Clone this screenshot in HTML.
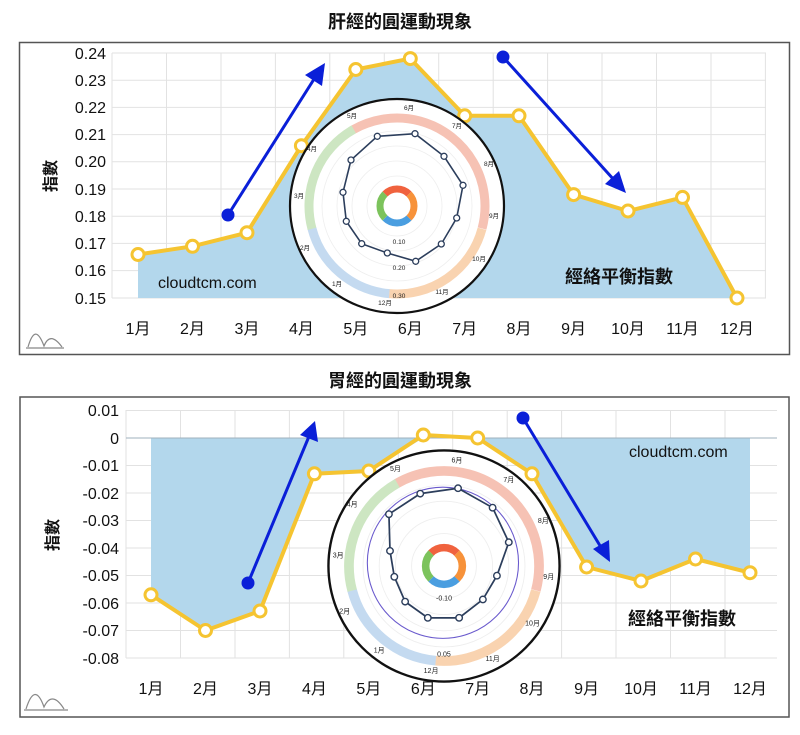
<!DOCTYPE html>
<html><head><meta charset="utf-8"><style>
html,body{margin:0;padding:0;background:#fff;}
svg{display:block;font-family:"Liberation Sans","Noto Sans CJK TC",sans-serif;}
</style></head><body>
<svg width="800" height="735" viewBox="0 0 800 735" xmlns="http://www.w3.org/2000/svg">
<defs>
<g id="wheel">
  <circle r="107" fill="#fff" stroke="#111" stroke-width="2.2"/>
  <circle r="88" fill="none" stroke="#f6c2b4" stroke-width="9" stroke-dasharray="207 1000" transform="rotate(-120)"/>
  <circle r="88" fill="none" stroke="#f9d3b0" stroke-width="9" stroke-dasharray="123 1000" transform="rotate(15)"/>
  <circle r="88" fill="none" stroke="#c4daf0" stroke-width="9" stroke-dasharray="108 1000" transform="rotate(95)"/>
  <circle r="88" fill="none" stroke="#cde6c2" stroke-width="9" stroke-dasharray="116 1000" transform="rotate(165)"/>
  <g stroke="#eee" stroke-width="0.8" fill="none">
    <circle r="30"/><circle r="45"/><circle r="60"/><circle r="75"/>
  </g>
  <circle r="17" fill="none" stroke="#f0623e" stroke-width="7" stroke-dasharray="26.7 200" transform="rotate(-135)"/>
  <circle r="17" fill="none" stroke="#f7923a" stroke-width="7" stroke-dasharray="26.7 200" transform="rotate(-45)"/>
  <circle r="17" fill="none" stroke="#4a9ee0" stroke-width="7" stroke-dasharray="26.7 200" transform="rotate(45)"/>
  <circle r="17" fill="none" stroke="#7cc35c" stroke-width="7" stroke-dasharray="26.7 200" transform="rotate(135)"/>
  <g font-size="6.5" fill="#222" text-anchor="middle">
    <text x="12" y="-96">6月</text><text x="60" y="-78">7月</text><text x="92" y="-40">8月</text>
    <text x="97" y="12">9月</text><text x="82" y="55">10月</text><text x="45" y="88">11月</text>
    <text x="-12" y="99">12月</text><text x="-60" y="80">1月</text><text x="-92" y="44">2月</text>
    <text x="-98" y="-8">3月</text><text x="-85" y="-55">4月</text><text x="-45" y="-88">5月</text>
  </g>
</g>
</defs>

<!-- TOP CHART -->
<text x="400" y="28" text-anchor="middle" font-size="18" font-weight="bold" fill="#111">肝經的圓運動現象</text>
<rect x="19.5" y="42.5" width="770" height="312" fill="#fff" stroke="#555" stroke-width="1.5"/>
<g stroke="#e2e2e2" stroke-width="1">
  <line x1="112" y1="53" x2="766" y2="53"/><line x1="112" y1="80.2" x2="766" y2="80.2"/><line x1="112" y1="107.4" x2="766" y2="107.4"/>
  <line x1="112" y1="134.6" x2="766" y2="134.6"/><line x1="112" y1="161.8" x2="766" y2="161.8"/><line x1="112" y1="189" x2="766" y2="189"/>
  <line x1="112" y1="216.2" x2="766" y2="216.2"/><line x1="112" y1="243.4" x2="766" y2="243.4"/><line x1="112" y1="270.6" x2="766" y2="270.6"/><line x1="112" y1="298" x2="766" y2="298"/>
  <line x1="112" y1="53" x2="112" y2="298"/><line x1="166.5" y1="53" x2="166.5" y2="298"/><line x1="221" y1="53" x2="221" y2="298"/><line x1="275.4" y1="53" x2="275.4" y2="298"/>
  <line x1="329.8" y1="53" x2="329.8" y2="298"/><line x1="384.3" y1="53" x2="384.3" y2="298"/><line x1="438.7" y1="53" x2="438.7" y2="298"/><line x1="493.2" y1="53" x2="493.2" y2="298"/>
  <line x1="547.6" y1="53" x2="547.6" y2="298"/><line x1="602" y1="53" x2="602" y2="298"/><line x1="656.5" y1="53" x2="656.5" y2="298"/><line x1="711" y1="53" x2="711" y2="298"/><line x1="765.4" y1="53" x2="765.4" y2="298"/>
</g>
<polygon fill="#b3d7ec" points="138,298 138,254.5 192.5,246.3 247,232.7 301.4,145.7 355.8,69.5 410.3,58.6 464.7,115.8 519,115.8 573.6,194.6 628,211 682.5,197.4 737,298"/>
<g font-size="16" fill="#111" text-anchor="end">
  <text x="106" y="59">0.24</text><text x="106" y="86">0.23</text><text x="106" y="113">0.22</text><text x="106" y="140">0.21</text>
  <text x="106" y="167">0.20</text><text x="106" y="195">0.19</text><text x="106" y="222">0.18</text><text x="106" y="249">0.17</text>
  <text x="106" y="276">0.16</text><text x="106" y="304">0.15</text>
</g>
<text transform="translate(56,176) rotate(-90)" text-anchor="middle" font-size="16" font-weight="bold" fill="#111">指數</text>
<g font-size="16" fill="#111" text-anchor="middle">
  <text x="138" y="334">1月</text><text x="192.5" y="334">2月</text><text x="247" y="334">3月</text><text x="301.4" y="334">4月</text>
  <text x="355.8" y="334">5月</text><text x="410.3" y="334">6月</text><text x="464.7" y="334">7月</text><text x="519" y="334">8月</text>
  <text x="573.6" y="334">9月</text><text x="628" y="334">10月</text><text x="682.5" y="334">11月</text><text x="737" y="334">12月</text>
</g>
<text x="158" y="288" font-size="16" fill="#111">cloudtcm.com</text>
<text x="565" y="283" font-size="18" font-weight="bold" fill="#111">經絡平衡指數</text>
<polyline fill="none" stroke="#f5c431" stroke-width="4" stroke-linejoin="round" points="138,254.5 192.5,246.3 247,232.7 301.4,145.7 355.8,69.5 410.3,58.6 464.7,115.8 519,115.8 573.6,194.6 628,211 682.5,197.4 737,298"/>
<g fill="#fff" stroke="#f5c431" stroke-width="3">
  <circle cx="138" cy="254.5" r="6"/><circle cx="192.5" cy="246.3" r="6"/><circle cx="247" cy="232.7" r="6"/><circle cx="301.4" cy="145.7" r="6"/>
  <circle cx="355.8" cy="69.5" r="6"/><circle cx="410.3" cy="58.6" r="6"/><circle cx="464.7" cy="115.8" r="6"/><circle cx="519" cy="115.8" r="6"/>
  <circle cx="573.6" cy="194.6" r="6"/><circle cx="628" cy="211" r="6"/><circle cx="682.5" cy="197.4" r="6"/><circle cx="737" cy="298" r="6"/>
</g>
<g transform="translate(397,206)">
  <use href="#wheel"/>
  <polygon fill="none" stroke="#2c3e5c" stroke-width="1.6" points="-19.7,-69.7 18,-72.3 47,-49.7 66,-20.7 59.7,12 44.3,38 18.7,55.3 -9.7,47 -35.3,37.7 -50.7,15.3 -54,-13.7 -46,-46"/>
  <g fill="#fff" stroke="#2c3e5c" stroke-width="1.3">
    <circle cx="-19.7" cy="-69.7" r="3"/><circle cx="18" cy="-72.3" r="3"/><circle cx="47" cy="-49.7" r="3"/><circle cx="66" cy="-20.7" r="3"/>
    <circle cx="59.7" cy="12" r="3"/><circle cx="44.3" cy="38" r="3"/><circle cx="18.7" cy="55.3" r="3"/><circle cx="-9.7" cy="47" r="3"/>
    <circle cx="-35.3" cy="37.7" r="3"/><circle cx="-50.7" cy="15.3" r="3"/><circle cx="-54" cy="-13.7" r="3"/><circle cx="-46" cy="-46" r="3"/>
  </g>
  <g font-size="6.5" fill="#222" text-anchor="middle"><text x="2" y="38">0.10</text><text x="2" y="64">0.20</text><text x="2" y="92">0.30</text></g>
</g>
<g fill="#0a1fd8" stroke="#0a1fd8">
  <line x1="228" y1="215" x2="316" y2="76" stroke-width="3"/>
  <polygon points="325,63 322,86 305,75" stroke="none"/>
  <circle cx="228" cy="215" r="6.5" stroke="none"/>
  <line x1="503" y1="57" x2="615" y2="181" stroke-width="3"/>
  <polygon points="626,193 605,184 619,171" stroke="none"/>
  <circle cx="503" cy="57" r="6.5" stroke="none"/>
</g>
<g fill="none" stroke="#888" stroke-width="1.2"><path d="M26,348 L64,348"/><path d="M28,347 C33,330 38,330 44,346 C48,336 54,336 62,347"/></g>

<!-- BOTTOM CHART -->
<text x="400" y="387" text-anchor="middle" font-size="18" font-weight="bold" fill="#111">胃經的圓運動現象</text>
<rect x="20" y="397" width="769" height="320" fill="#fff" stroke="#555" stroke-width="1.5"/>
<g stroke="#e2e2e2" stroke-width="1">
  <line x1="126" y1="410.5" x2="777" y2="410.5"/><line x1="126" y1="465.5" x2="777" y2="465.5"/><line x1="126" y1="493" x2="777" y2="493"/>
  <line x1="126" y1="520.5" x2="777" y2="520.5"/><line x1="126" y1="548" x2="777" y2="548"/><line x1="126" y1="575.5" x2="777" y2="575.5"/>
  <line x1="126" y1="603" x2="777" y2="603"/><line x1="126" y1="630.5" x2="777" y2="630.5"/><line x1="126" y1="658" x2="777" y2="658"/>
  <line x1="126" y1="410" x2="126" y2="658"/><line x1="180.5" y1="410" x2="180.5" y2="658"/><line x1="235" y1="410" x2="235" y2="658"/><line x1="289.4" y1="410" x2="289.4" y2="658"/>
  <line x1="343.8" y1="410" x2="343.8" y2="658"/><line x1="398.3" y1="410" x2="398.3" y2="658"/><line x1="452.7" y1="410" x2="452.7" y2="658"/><line x1="507.2" y1="410" x2="507.2" y2="658"/>
  <line x1="561.6" y1="410" x2="561.6" y2="658"/><line x1="616" y1="410" x2="616" y2="658"/><line x1="670.5" y1="410" x2="670.5" y2="658"/><line x1="725" y1="410" x2="725" y2="658"/>
</g>
<polygon fill="#b3d7ec" points="151,438 750,438 750,572.7 695.5,559 641,581 586.6,567 532,473.8 477.7,438 423.3,438 368.8,471 314.4,473.8 260,611 205.5,630.5 151,594.8"/>
<line x1="126" y1="438" x2="777" y2="438" stroke="#9fb0bd" stroke-width="1"/>
<g font-size="16" fill="#111" text-anchor="end">
  <text x="119" y="416">0.01</text><text x="119" y="444">0</text><text x="119" y="471">-0.01</text><text x="119" y="499">-0.02</text>
  <text x="119" y="526">-0.03</text><text x="119" y="554">-0.04</text><text x="119" y="581">-0.05</text><text x="119" y="609">-0.06</text>
  <text x="119" y="636">-0.07</text><text x="119" y="664">-0.08</text>
</g>
<text transform="translate(58,535) rotate(-90)" text-anchor="middle" font-size="16" font-weight="bold" fill="#111">指數</text>
<g font-size="16" fill="#111" text-anchor="middle">
  <text x="151" y="694">1月</text><text x="205.5" y="694">2月</text><text x="260" y="694">3月</text><text x="314.4" y="694">4月</text>
  <text x="368.8" y="694">5月</text><text x="423.3" y="694">6月</text><text x="477.7" y="694">7月</text><text x="532" y="694">8月</text>
  <text x="586.6" y="694">9月</text><text x="641" y="694">10月</text><text x="695.5" y="694">11月</text><text x="750" y="694">12月</text>
</g>
<text x="629" y="457" font-size="16" fill="#111">cloudtcm.com</text>
<text x="628" y="625" font-size="18" font-weight="bold" fill="#111">經絡平衡指數</text>
<polyline fill="none" stroke="#f5c431" stroke-width="4" stroke-linejoin="round" points="151,594.8 205.5,630.5 260,611 314.4,473.8 368.8,471 423.3,435 477.7,438 532,473.8 586.6,567 641,581 695.5,559 750,572.7"/>
<g fill="#fff" stroke="#f5c431" stroke-width="3">
  <circle cx="151" cy="594.8" r="6"/><circle cx="205.5" cy="630.5" r="6"/><circle cx="260" cy="611" r="6"/><circle cx="314.4" cy="473.8" r="6"/>
  <circle cx="368.8" cy="471" r="6"/><circle cx="423.3" cy="435" r="6"/><circle cx="477.7" cy="438" r="6"/><circle cx="532" cy="473.8" r="6"/>
  <circle cx="586.6" cy="567" r="6"/><circle cx="641" cy="581" r="6"/><circle cx="695.5" cy="559" r="6"/><circle cx="750" cy="572.7" r="6"/>
</g>
<g transform="translate(444,566) scale(1.08)">
  <use href="#wheel"/>
  <circle cx="-1" cy="-3" r="70" fill="none" stroke="#6a5acd" stroke-width="1"/>
  <polygon fill="none" stroke="#2c3e5c" stroke-width="1.6" points="13,-72 -22,-67 -51,-48 -50,-14 -46,10 -36,33 -15,48 14,48 36,31 49,9 60,-22 45,-54"/>
  <g fill="#fff" stroke="#2c3e5c" stroke-width="1.3">
    <circle cx="13" cy="-72" r="3"/><circle cx="-22" cy="-67" r="3"/><circle cx="-51" cy="-48" r="3"/><circle cx="-50" cy="-14" r="3"/>
    <circle cx="-46" cy="10" r="3"/><circle cx="-36" cy="33" r="3"/><circle cx="-15" cy="48" r="3"/><circle cx="14" cy="48" r="3"/>
    <circle cx="36" cy="31" r="3"/><circle cx="49" cy="9" r="3"/><circle cx="60" cy="-22" r="3"/><circle cx="45" cy="-54" r="3"/>
  </g>
  <g font-size="6.5" fill="#222" text-anchor="middle"><text x="0" y="32">-0.10</text><text x="0" y="84">0.05</text></g>
</g>
<g fill="#0a1fd8" stroke="#0a1fd8">
  <line x1="248" y1="583" x2="310" y2="434" stroke-width="3"/>
  <polygon points="315,421 318,442 300,435" stroke="none"/>
  <circle cx="248" cy="583" r="6.5" stroke="none"/>
  <line x1="523" y1="418" x2="602" y2="549" stroke-width="3"/>
  <polygon points="610,562 593,549 609,540" stroke="none"/>
  <circle cx="523" cy="418" r="6.5" stroke="none"/>
</g>
<g fill="none" stroke="#888" stroke-width="1.2"><path d="M24,710 L68,710"/><path d="M26,709 C32,690 38,690 44,707 C49,696 56,696 64,709"/></g>
</svg>
</body></html>
